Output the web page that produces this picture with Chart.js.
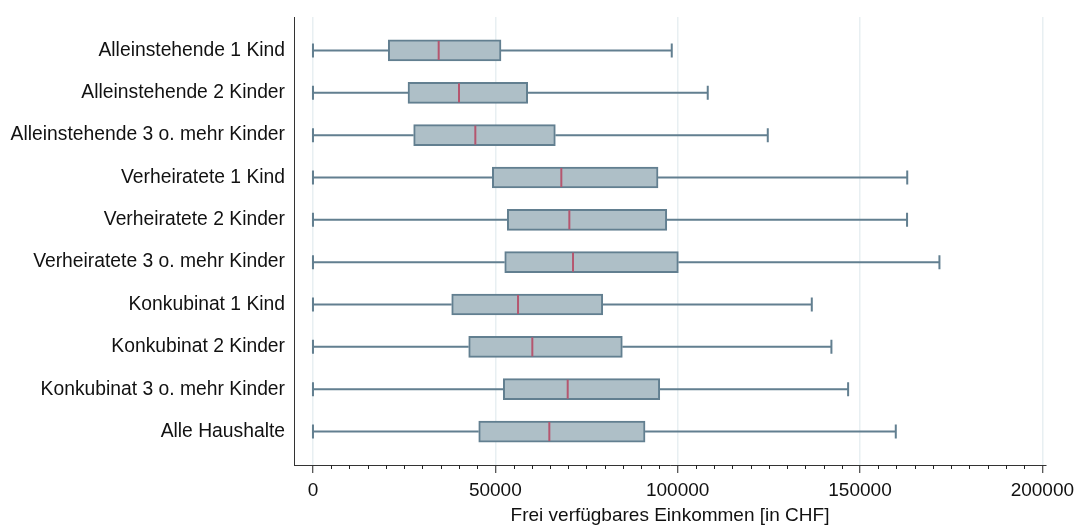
<!DOCTYPE html>
<html>
<head>
<meta charset="utf-8">
<script src="https://cdn.jsdelivr.net/npm/chart.js@4"></script>
<style>
  html, body { margin: 0; padding: 0; background: #fff; }
  #wrap { width: 1077px; height: 527px; position: relative; }
</style>
</head>
<body>
<div id="wrap"><canvas id="chart"></canvas></div>
<script>
// Haushaltstypen (von oben nach unten)
const categories = [
  'Alleinstehende 1 Kind',
  'Alleinstehende 2 Kinder',
  'Alleinstehende 3 o. mehr Kinder',
  'Verheiratete 1 Kind',
  'Verheiratete 2 Kinder',
  'Verheiratete 3 o. mehr Kinder',
  'Konkubinat 1 Kind',
  'Konkubinat 2 Kinder',
  'Konkubinat 3 o. mehr Kinder',
  'Alle Haushalte'
];
const whiskerLow = [0, 0, 0, 0, 0, 0, 0, 0, 0, 0];
const q1 = [20650, 26060, 27610, 49180, 53290, 52580, 38040, 42700, 52190, 45450];
const median = [34470, 40040, 44520, 68100, 70300, 71310, 56230, 60150, 69850, 64810];
const q3 = [51560, 58880, 66460, 94620, 97010, 100190, 79460, 84830, 95090, 91060];
const whiskerHigh = [98380, 108250, 124710, 162950, 162900, 171780, 136780, 142160, 146740, 159810];
const xTicks = [0, 50000, 100000, 150000, 200000];
const minorStep = 5000;

const FONT = '"Liberation Sans", Arial, sans-serif';
const LINE = '#627f90';
const FILL = '#aebfc7';
const MED = '#b5566f';

const whiskers = {
  id: 'whiskers',
  afterDatasetsDraw(chart) {
    const { ctx, scales: { x, y } } = chart;
    ctx.save();
    ctx.lineWidth = 2;
    categories.forEach((c, i) => {
      const cy = y.getPixelForValue(i);
      const lo = x.getPixelForValue(whiskerLow[i]);
      const hi = x.getPixelForValue(whiskerHigh[i]);
      const a = x.getPixelForValue(q1[i]);
      const b = x.getPixelForValue(q3[i]);
      ctx.strokeStyle = LINE;
      ctx.beginPath();
      ctx.moveTo(lo, cy); ctx.lineTo(a, cy);
      ctx.moveTo(b, cy); ctx.lineTo(hi, cy);
      ctx.moveTo(lo, cy - 7); ctx.lineTo(lo, cy + 7);
      ctx.moveTo(hi, cy - 7); ctx.lineTo(hi, cy + 7);
      ctx.stroke();
      const m = x.getPixelForValue(median[i]);
      ctx.strokeStyle = MED;
      ctx.beginPath();
      ctx.moveTo(m, cy - 9.5); ctx.lineTo(m, cy + 9.5);
      ctx.stroke();
    });
    // kleine Zwischenstriche auf der x-Achse
    ctx.strokeStyle = '#222';
    ctx.lineWidth = 1;
    const bottom = chart.chartArea.bottom;
    for (let v = 0; v <= xTicks[xTicks.length - 1]; v += minorStep) {
      if (xTicks.includes(v)) continue;
      const px = Math.round(x.getPixelForValue(v)) + 0.5;
      ctx.beginPath();
      ctx.moveTo(px, bottom); ctx.lineTo(px, bottom + 4);
      ctx.stroke();
    }
    ctx.restore();
  }
};

new Chart(document.getElementById('chart'), {
  type: 'bar',
  data: {
    datasets: [{
      data: categories.map((c, i) => ({ x: [q1[i], q3[i]], y: i })),
      backgroundColor: FILL,
      borderColor: LINE,
      borderWidth: 2,
      borderSkipped: false,
      barThickness: 21
    }]
  },
  options: {
    indexAxis: 'y',
    responsive: true,
    maintainAspectRatio: false,
    animation: false,
    layout: { padding: { top: 17, right: 31, left: 0, bottom: 0 } },
    plugins: { legend: { display: false }, tooltip: { enabled: false } },
    scales: {
      x: {
        type: 'linear',
        min: -5200,
        max: 201000,
        afterBuildTicks: (s) => { s.ticks = xTicks.map((v) => ({ value: v })); },
        afterFit: (s) => { s.height = 62; s.paddingLeft = 0; s.paddingRight = 0; },
        ticks: {
          color: '#111',
          font: { family: FONT, size: 19 },
          padding: 6,
          maxRotation: 0,
          callback: (v) => String(v)
        },
        grid: { color: '#e8eff2', lineWidth: 1.5, tickColor: '#222', tickLength: 8, tickWidth: 1 },
        border: { color: '#333', width: 1 },
        title: {
          display: true,
          text: 'Frei verfügbares Einkommen [in CHF]',
          color: '#111',
          font: { family: FONT, size: 19 },
          padding: { top: 0, bottom: 0 }
        }
      },
      y: {
        type: 'linear',
        reverse: true,
        offset: false,
        min: -0.79,
        max: 9.79,
        afterBuildTicks: (s) => { s.ticks = categories.map((c, i) => ({ value: i })); },
        afterFit: (s) => { s.width = 294; s.paddingTop = 0; s.paddingBottom = 0; },
        ticks: {
          color: '#111',
          font: { family: FONT, size: 19.3 },
          padding: 9,
          callback: (v) => categories[v]
        },
        grid: { display: false, drawTicks: false },
        border: { color: '#333', width: 1 }
      }
    }
  },
  plugins: [whiskers]
});
</script>
</body>
</html>
